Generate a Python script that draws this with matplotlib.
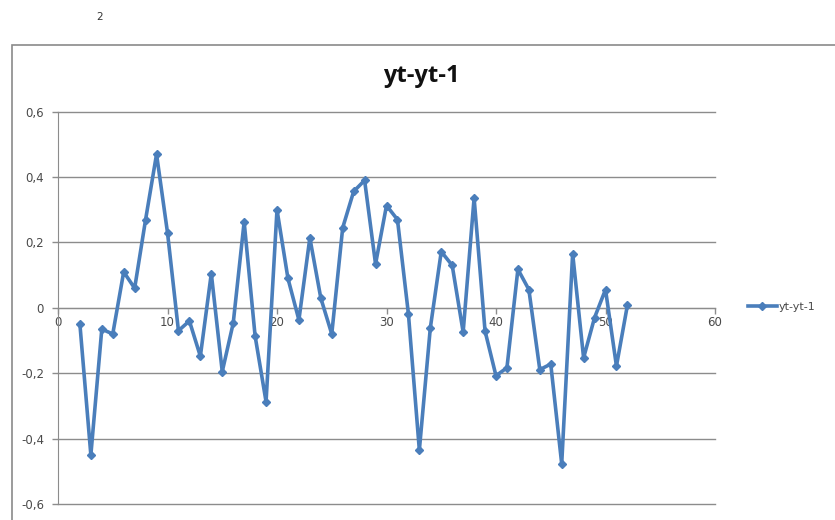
import matplotlib
matplotlib.use('Agg')
import matplotlib.pyplot as plt
from matplotlib.patches import Rectangle
from matplotlib.ticker import FuncFormatter

# period index and first differences of the series
t = list(range(2, 53))
dy = [-0.05, -0.45, -0.065, -0.08, 0.11, 0.06, 0.27, 0.47, 0.23, -0.07,
      -0.04, -0.148, 0.105, -0.195, -0.047, 0.263, -0.086, -0.287, 0.30, 0.09,
      -0.037, 0.214, 0.03, -0.08, 0.245, 0.356, 0.39, 0.134, 0.313, 0.27,
      -0.018, -0.435, -0.062, 0.172, 0.13, -0.074, 0.336, -0.071, -0.208, -0.183,
      0.118, 0.056, -0.189, -0.172, -0.477, 0.166, -0.153, -0.03, 0.056, -0.178,
      0.008]

series_name = 'yt-yt-1'
x_ticks = [0, 10, 20, 30, 40, 50, 60]
y_ticks = [-0.6, -0.4, -0.2, 0, 0.2, 0.4, 0.6]

blue = '#4a7ebb'
grid_gray = '#8c8c8c'
text_col = '#4a4a4a'


def comma_fmt(v, pos):
    if abs(v) < 1e-9:
        return '0'
    return f'{v:.1f}'.replace('.', ',')


fig = plt.figure(figsize=(8.35, 5.2), dpi=100)
fig.patch.set_facecolor('white')

# chart frame, partly cut off on the right and bottom
fig.patches.append(Rectangle((12 / 835, -0.2), 1.2, 1.2 - 45 / 520,
                             transform=fig.transFigure, fill=False,
                             edgecolor='#8a8a8a', linewidth=1.2))
fig.text(100 / 835, 1 - 17 / 520, '2', fontsize=7.5, color='#333333',
         ha='center', va='center')
fig.text(421 / 835, 1 - 76 / 520, 'yt-yt-1', fontsize=17, fontweight='bold',
         color='#111111', family='Open Sans', ha='center', va='center')

ax = fig.add_axes([58 / 835, 1 - 504 / 520, 657 / 835, 392.3 / 520])
ax.plot(t, dy, color=blue, linewidth=2.6, marker='D', markersize=4.5,
        label=series_name, zorder=3)

ax.set_xlim(0, 60)
ax.set_ylim(-0.6, 0.6)
ax.set_xticks(x_ticks)
ax.set_yticks(y_ticks)
ax.yaxis.set_major_formatter(FuncFormatter(comma_fmt))

# horizontal gridlines, including the ones on the axis limits
for yv in y_ticks:
    ax.axhline(yv, color=grid_gray, linewidth=1.0, zorder=1, clip_on=False)

for s in ['top', 'right']:
    ax.spines[s].set_visible(False)
ax.spines['left'].set_color(grid_gray)
ax.spines['bottom'].set_position(('data', 0))
ax.spines['bottom'].set_color(grid_gray)
ax.tick_params(axis='both', colors=grid_gray, labelcolor=text_col,
               labelsize=8.5, length=4, width=1)
ax.tick_params(axis='x', pad=2)
ax.tick_params(axis='y', pad=6)

fig.legend(loc='center left', bbox_to_anchor=(738 / 835, 1 - 307 / 520),
           frameon=False, fontsize=8, handlelength=2.6, handletextpad=0.15,
           labelcolor=text_col)

fig.savefig('out.png', dpi=100)
